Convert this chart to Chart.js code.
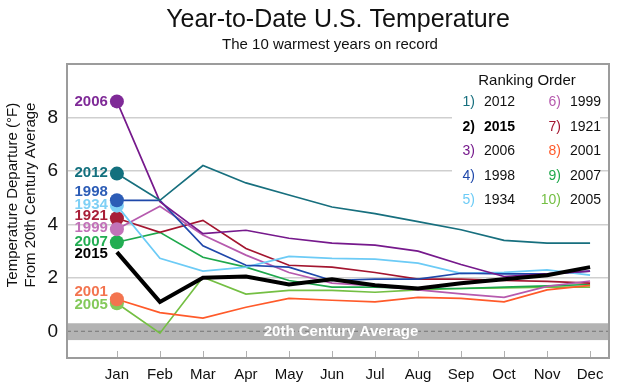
<!DOCTYPE html>
<html>
<head>
<meta charset="utf-8">
<script src="https://cdn.jsdelivr.net/npm/chart.js@4.4.1/dist/chart.umd.min.js"></script>
<style>
  body { margin: 0; background: #fff; }
</style>
</head>
<body>
<canvas id="tempChart" width="625" height="388"></canvas>
<script>
// Year-to-date US temperature departure, 10 warmest years

const months = ['Jan', 'Feb', 'Mar', 'Apr', 'May', 'Jun', 'Jul', 'Aug', 'Sep', 'Oct', 'Nov', 'Dec'];
const yTicks = [0, 2, 4, 6, 8];
const rankOrder = [2012, 2015, 2006, 1998, 1934, 1999, 1921, 2001, 2007, 2005];

const t2012 = [5.9, 4.9, 6.2, 5.55, 5.1, 4.65, 4.4, 4.1, 3.8, 3.4, 3.3, 3.3];
const t2015 = [2.96, 1.1, 2.0, 2.05, 1.75, 1.95, 1.72, 1.6, 1.8, 1.95, 2.1, 2.4];
const t2006 = [8.6, 4.85, 3.65, 3.78, 3.48, 3.3, 3.22, 3.0, 2.5, 2.05, 2.15, 2.25];
const t1998 = [4.9, 4.9, 3.2, 2.47, 2.4, 1.9, 1.95, 1.95, 2.17, 2.15, 2.15, 2.25];
const t1934 = [4.7, 2.73, 2.25, 2.4, 2.8, 2.73, 2.7, 2.55, 2.17, 2.2, 2.3, 2.1];
const t1999 = [3.82, 4.68, 3.6, 2.85, 2.2, 1.8, 1.7, 1.55, 1.4, 1.27, 1.68, 1.88];
const t1921 = [4.23, 3.7, 4.15, 3.1, 2.47, 2.4, 2.2, 1.95, 1.95, 1.9, 1.87, 1.8];
const t2001 = [1.2, 0.7, 0.49, 0.9, 1.23, 1.16, 1.1, 1.27, 1.23, 1.1, 1.55, 1.72];
const t2007 = [3.33, 3.7, 2.77, 2.4, 1.9, 1.65, 1.65, 1.6, 1.6, 1.65, 1.7, 1.75];
const t2005 = [1.05, -0.07, 2.02, 1.39, 1.53, 1.53, 1.46, 1.55, 1.6, 1.62, 1.65, 1.65];

const seriesByYear = {
  2012: t2012, 2015: t2015, 2006: t2006, 1998: t1998, 1934: t1934,
  1999: t1999, 1921: t1921, 2001: t2001, 2007: t2007, 2005: t2005
};

const lineColor = {
  2012: '#176f7e', 2015: '#000000', 2006: '#76198c', 1998: '#1f48aa', 1934: '#6ccbf6',
  1999: '#b65aae', 1921: '#a3152f', 2001: '#ff5a2a', 2007: '#1ea84c', 2005: '#74bf43'
};
const dotColor = {
  2012: '#13707e', 2015: '#000000', 2006: '#7f2a97', 1998: '#2c5cb6', 1934: '#7fd0f5',
  1999: '#c272b9', 1921: '#a81e38', 2001: '#f3744f', 2007: '#22ad52', 2005: '#84c95a'
};
// small pixel nudges so the stacked Jan labels don't collide
const labelNudge = { 2012: -1, 2015: 2, 2006: 0, 1998: -8, 1934: -1, 1999: -1, 1921: -2, 2001: -7, 2007: 0, 2005: 2 };

const datasets = rankOrder.map(year => ({
  label: String(year),
  data: seriesByYear[year].map((v, i) => ({ x: i, y: v })),
  borderColor: lineColor[year],
  borderWidth: year === 2015 ? 4 : 1.7,
  pointRadius: ctx => (year !== 2015 && ctx.dataIndex === 0) ? 7 : 0,
  pointBackgroundColor: dotColor[year],
  pointBorderWidth: 0,
  tension: 0,
  order: year === 2015 ? -1 : 0
}));

const decorPlugin = {
  id: 'decor',
  beforeDatasetsDraw(chart) {
    const { ctx, chartArea: a, scales: { x, y } } = chart;
    ctx.save();
    // 20th century average band
    const bTop = y.getPixelForValue(0.3), bBot = y.getPixelForValue(-0.33);
    ctx.fillStyle = '#b3b3b3';
    ctx.fillRect(a.left, bTop, a.right - a.left, bBot - bTop);
    ctx.strokeStyle = '#767676';
    ctx.lineWidth = 1;
    ctx.setLineDash([4, 3]);
    ctx.beginPath();
    ctx.moveTo(a.left, y.getPixelForValue(0));
    ctx.lineTo(a.right, y.getPixelForValue(0));
    ctx.stroke();
    ctx.setLineDash([]);
    ctx.fillStyle = '#fff';
    ctx.font = 'bold 15px "Liberation Sans", Arial, sans-serif';
    ctx.textAlign = 'center';
    ctx.textBaseline = 'middle';
    ctx.fillText('20th Century Average', (a.left + a.right) / 2 + 3, y.getPixelForValue(0) + 1);

    // bottom tick marks
    ctx.strokeStyle = '#b0b0b0';
    ctx.lineWidth = 1;
    months.forEach((m, i) => {
      const px = Math.round(x.getPixelForValue(i)) + 0.5;
      ctx.beginPath();
      ctx.moveTo(px, a.bottom);
      ctx.lineTo(px, a.bottom - 7);
      ctx.stroke();
    });

    // ranking legend
    ctx.fillStyle = '#fff';
    ctx.fillRect(452, 68, 148, 142);
    ctx.fillStyle = '#111';
    ctx.font = '15px "Liberation Sans", Arial, sans-serif';
    ctx.fillText('Ranking Order', 527, 81);
    rankOrder.forEach((year, k) => {
      const col = k < 5 ? 0 : 1;
      const row = k % 5;
      const ty = 102.5 + row * 24.5;
      const numX = col === 0 ? 475 : 561;
      const yearX = col === 0 ? 484 : 570;
      const bold = year === 2015 ? 'bold ' : '';
      ctx.font = bold + '14px "Liberation Sans", Arial, sans-serif';
      ctx.textAlign = 'right';
      ctx.fillStyle = year === 2015 ? '#000' : lineColor[year];
      ctx.fillText((k + 1) + ')', numX, ty);
      ctx.textAlign = 'left';
      ctx.fillStyle = year === 2015 ? '#000' : '#111';
      ctx.fillText(String(year), yearX, ty);
    });
    ctx.restore();
  },
  afterDatasetsDraw(chart) {
    const { ctx, scales: { x, y } } = chart;
    ctx.save();
    ctx.font = 'bold 15px "Liberation Sans", Arial, sans-serif';
    ctx.textAlign = 'right';
    ctx.textBaseline = 'middle';
    rankOrder.forEach(year => {
      ctx.fillStyle = dotColor[year];
      ctx.fillText(String(year), x.getPixelForValue(0) - 9, y.getPixelForValue(seriesByYear[year][0]) + labelNudge[year]);
    });
    ctx.restore();
  },
  afterDraw(chart) {
    const { ctx, chartArea: a } = chart;
    ctx.save();
    ctx.strokeStyle = '#9c9c9c';
    ctx.lineWidth = 2;
    ctx.strokeRect(a.left, a.top, a.right - a.left, a.bottom - a.top);

    // titles, centred over the plot
    const cx = (a.left + a.right) / 2;
    ctx.fillStyle = '#111';
    ctx.textAlign = 'center';
    ctx.textBaseline = 'middle';
    ctx.font = '25px "Liberation Sans", Arial, sans-serif';
    ctx.fillText('Year-to-Date U.S. Temperature', cx, 20);
    ctx.font = '15px "Liberation Sans", Arial, sans-serif';
    ctx.fillText('The 10 warmest years on record', cx - 8, 45);

    // y axis title
    ctx.translate(22, 195);
    ctx.rotate(-Math.PI / 2);
    ctx.fillText('Temperature Departure (°F)', 0, -9);
    ctx.fillText('From 20th Century Average', 0, 9);
    ctx.restore();
  }
};

new Chart(document.getElementById('tempChart'), {
  type: 'line',
  data: { datasets },
  options: {
    responsive: false,
    animation: false,
    devicePixelRatio: 1,
    layout: { padding: { top: 64, right: 16, left: 0, bottom: 0 } },
    plugins: {
      legend: { display: false },
      tooltip: { enabled: false }
    },
    scales: {
      x: {
        type: 'linear',
        min: -1.16,
        max: 11.44,
        afterFit: s => { s.height = 30; },
        afterBuildTicks: s => { s.ticks = months.map((m, i) => ({ value: i })); },
        ticks: {
          callback: v => months[v],
          color: '#111',
          font: { size: 15, family: '"Liberation Sans", Arial, sans-serif' },
          padding: 0,
          maxRotation: 0,
          autoSkip: false
        },
        grid: { display: false },
        border: { display: false }
      },
      y: {
        min: -1,
        max: 10,
        afterFit: s => { s.width = 67; },
        afterBuildTicks: s => { s.ticks = yTicks.map(v => ({ value: v })); },
        ticks: {
          color: '#111',
          font: { size: 19, family: '"Liberation Sans", Arial, sans-serif' },
          padding: 9
        },
        grid: {
          drawTicks: false,
          color: c => (c.tick && c.tick.value > 0) ? '#cfcfcf' : 'rgba(0,0,0,0)',
          lineWidth: 1.5
        },
        border: { display: false }
      }
    }
  },
  plugins: [decorPlugin]
});
</script>
</body>
</html>
